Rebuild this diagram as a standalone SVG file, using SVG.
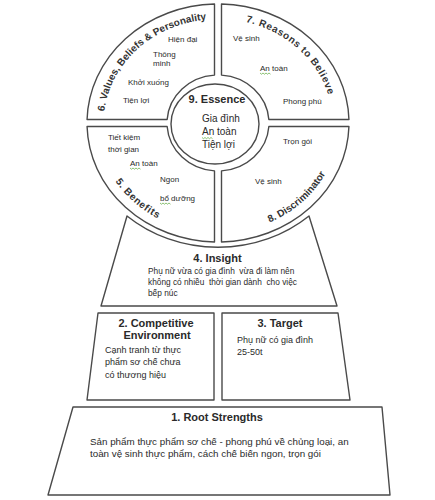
<svg xmlns="http://www.w3.org/2000/svg" xmlns:xlink="http://www.w3.org/1999/xlink" width="435" height="500" viewBox="0 0 435 500">
<style>
.shape{fill:#fff;stroke:#4a4a4a;stroke-width:1.4;stroke-linejoin:round}
.t{font-family:"Liberation Sans",Arial,sans-serif;fill:#2a2a2a}
.b{font-family:"Liberation Sans",Arial,sans-serif;font-weight:bold;fill:#2a2a2a;font-size:11px}
.s8{font-size:8px}
.s9{font-size:9px}
.lab{font-family:"Liberation Sans",Arial,sans-serif;font-weight:bold;fill:#333;font-size:10px}
.sq{fill:none;stroke:#5aa63a;stroke-width:0.7}
</style>
<defs>
<path id="arc6" d="M 103.6 123 A 114.4 104 0 0 1 218 19"/>
<path id="arc7" d="M 218 19 A 114.4 104 0 0 1 332.4 123"/>
<path id="arc5" d="M 97 123 A 121 110 0 0 0 218 233"/>
<path id="arc8" d="M 218 233 A 121 110 0 0 0 339 123"/>
<path id="squig" d="M0 0 l1.5 1.2 l1.5 -1.2 l1.5 1.2 l1.5 -1.2 l1.5 1.2 l1.5 -1.2 l1.5 1.2"/>
</defs>
<g id="connectors"></g>
<g id="q6">
<path class="shape" d="M 214.5 4.04 A 131 119 0 0 0 87.06 119.5 L 167.14 119.5 A 51 48 0 0 1 214.5 75.1 Z"/>
<text class="lab"><textPath xlink:href="#arc6" startOffset="50%" text-anchor="middle">6. Values, Beliefs &amp; Personality</textPath></text>
<text class="t s8" x="168" y="42">Hiện đại</text>
<text class="t s8" x="153" y="57">Thông</text>
<text class="t s8" x="153" y="66">minh</text>
<text class="t s8" x="128" y="85">Khởi xuống</text>
<text class="t s8" x="123" y="103">Tiện lợi</text>
</g>
<g id="q7">
<path class="shape" d="M 221.5 4.04 A 131 119 0 0 1 348.94 119.5 L 268.86 119.5 A 51 48 0 0 0 221.5 75.1 Z"/>
<text class="lab" letter-spacing="0.6"><textPath xlink:href="#arc7" startOffset="50%" text-anchor="middle">7. Reasons to Believe</textPath></text>
<text class="t s8" x="233" y="41">Vệ sinh</text>
<text class="t s8" x="260" y="71">An toàn</text>
<text class="t s8" x="283" y="104">Phong phú</text>
</g>
<g id="q5">
<path class="shape" d="M 87.06 126.5 A 131 119 0 0 0 214.5 241.96 L 214.5 170.9 A 51 48 0 0 1 167.14 126.5 Z"/>
<text class="lab" letter-spacing="0.6"><textPath xlink:href="#arc5" startOffset="50%" text-anchor="middle">5. Benefits</textPath></text>
<text class="t s8" x="108" y="140">Tiết kiệm</text>
<text class="t s8" x="108" y="152">thời gian</text>
<text class="t s8" x="130" y="166">An toàn</text>
<text class="t s8" x="160" y="182">Ngon</text>
<text class="t s8" x="160" y="201">bổ dưỡng</text>
</g>
<g id="q8">
<path class="shape" d="M 348.94 126.5 A 131 119 0 0 1 221.5 241.96 L 221.5 170.9 A 51 48 0 0 0 268.86 126.5 Z"/>
<text class="lab"><textPath xlink:href="#arc8" startOffset="50%" text-anchor="middle">8. Discriminator</textPath></text>
<text class="t s8" x="283" y="144">Trọn gói</text>
<text class="t s8" x="255" y="184">Vệ sinh</text>
</g>
<g id="essence">
<ellipse class="shape" cx="215" cy="124" rx="44" ry="40"/>
<text class="b" x="217" y="103" text-anchor="middle">9. Essence</text>
<text class="t" font-size="10" x="202" y="122">Gia đình</text>
<text class="t" font-size="10" x="202" y="135">An toàn</text>
<text class="t" font-size="10" x="202" y="148">Tiện lợi</text>
</g>
<g id="squiggles" class="sq">
<use xlink:href="#squig" x="260" y="73"/>
<use xlink:href="#squig" x="130" y="168"/>
<use xlink:href="#squig" x="160" y="203"/>
<use xlink:href="#squig" x="202" y="137.5"/>
</g>
<g id="insight">
<path class="shape" d="M 127 216 A 137.5 125 0 0 0 309 216 L 337 306 L 101 306 Z"/>
<text class="b" x="217.5" y="262" text-anchor="middle">4. Insight</text>
<text class="t" font-size="8.3" x="148" y="274" style="white-space:pre">Phụ nữ vừa có gia đình  vừa đi làm nên</text>
<text class="t" font-size="8.3" x="148" y="285" style="white-space:pre">không có nhiều  thời gian dành  cho việc</text>
<text class="t" font-size="8.3" x="148" y="296">bếp núc</text>
</g>
<g id="competitive">
<path class="shape" d="M 98 313 L 214 313 L 214 400 L 87 400 Z"/>
<text class="b" x="156" y="327" text-anchor="middle">2. Competitive</text>
<text class="b" x="157" y="339" text-anchor="middle">Environment</text>
<text class="t s9" x="105" y="353">Cạnh tranh từ thực</text>
<text class="t s9" x="105" y="365">phẩm sơ chế chưa</text>
<text class="t s9" x="105" y="378">có thương hiệu</text>
</g>
<g id="target">
<path class="shape" d="M 222 313 L 338 313 L 350 400 L 222 400 Z"/>
<text class="b" x="280" y="327" text-anchor="middle">3. Target</text>
<text class="t s9" x="237" y="343">Phụ nữ có gia đình</text>
<text class="t s9" x="237" y="355">25-50t</text>
</g>
<g id="root">
<path class="shape" d="M 73 407 L 382 407 L 390 495 L 48 495 Z"/>
<text class="b" x="217" y="421" text-anchor="middle">1. Root Strengths</text>
<text class="t" font-size="9.8" x="90" y="445">Sản phẩm thực phẩm sơ chế - phong phú về chủng loại, an</text>
<text class="t" font-size="9.8" x="90" y="457">toàn vệ sinh thực phẩm, cách chế biến ngon, trọn gói</text>
</g>
</svg>
